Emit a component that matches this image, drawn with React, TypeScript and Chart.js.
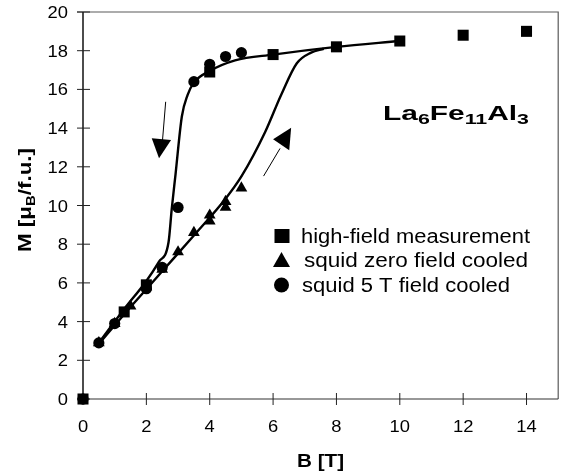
import React, { useEffect, useRef } from 'react';
import { Chart, registerables } from 'chart.js';

Chart.register(...registerables);

// Measured magnetisation M [µB/f.u.] versus applied field B [T]
const highFieldB = [0, 1.3, 2, 4, 6, 8, 10, 12, 14];
const highFieldM = [0, 4.5, 5.9, 16.9, 17.8, 18.2, 18.5, 18.8, 19.0];

const zfcB = [0.5, 1.0, 1.5, 2.0, 2.5, 3.0, 3.5, 4.0, 4.0, 4.5, 4.5, 5.0];
const zfcM = [2.9, 3.9, 4.8, 5.8, 6.7, 7.6, 8.6, 9.5, 9.2, 10.2, 9.9, 10.9];

const fcB = [0, 0.5, 1.0, 2.0, 2.5, 3.0, 3.5, 4.0, 4.5, 5.0];
const fcM = [0, 2.9, 3.9, 5.7, 6.8, 9.9, 16.4, 17.3, 17.7, 17.9];

// Guide-to-the-eye curves: decreasing-field branch and increasing-field branch
const downCurveB = [0.5, 1.3, 2.0, 2.4, 2.7, 2.8, 2.92, 3.12, 3.3, 3.5, 4.0, 4.8, 6.0, 8.0, 10.0];
const downCurveM = [2.9, 4.65, 6.1, 7.1, 8.1, 9.8, 11.6, 14.6, 15.7, 16.35, 16.95, 17.5, 17.8, 18.2, 18.5];

const upCurveB = [0.5, 1.5, 2.5, 3.5, 4.5, 5.0, 5.75, 6.25, 6.75, 7.2, 7.6];
const upCurveM = [2.85, 4.75, 6.6, 8.45, 10.35, 11.5, 13.8, 15.7, 17.35, 17.9, 18.1];

// Field-sweep direction arrows: [tailB, tailM, shaftEndB, shaftEndM, tipB, tipM, base1B, base1M, base2B, base2M]
const arrowDown = [2.61, 15.36, 2.51, 13.38, 2.40, 12.44, 2.17, 13.47, 2.78, 13.38];
const arrowUp = [5.70, 11.52, 6.22, 12.95, 6.57, 14.02, 6.00, 13.42, 6.51, 12.86];

// Axis tick labels
const bTicks = [0, 2, 4, 6, 8, 10, 12, 14];
const mTicks = [0, 2, 4, 6, 8, 10, 12, 14, 16, 18, 20];

const legendLabels = ['high-field measurement', 'squid zero field cooled', 'squid 5 T field cooled'];

const FONT = "'Liberation Sans', Arial, Helvetica, sans-serif";

const pts = (xs: number[], ys: number[]) => xs.map((x, i) => ({ x, y: ys[i] }));

type Run = { text: string; font: string; dy: number };

function drawRuns(ctx: CanvasRenderingContext2D, runs: Run[], x: number, y: number, width?: number) {
  let total = 0;
  const ws = runs.map((r) => {
    ctx.font = r.font;
    const w = ctx.measureText(r.text).width;
    total += w;
    return w;
  });
  const sx = width ? width / total : 1;
  ctx.save();
  ctx.translate(x, y);
  ctx.scale(sx, 1);
  let cx = 0;
  runs.forEach((r, i) => {
    ctx.font = r.font;
    ctx.fillText(r.text, cx, r.dy);
    cx += ws[i];
  });
  ctx.restore();
}

const framePlugin = {
  id: 'frame',
  beforeDatasetsDraw(chart: any) {
    const { ctx, chartArea: a, scales } = chart;
    const xs = scales.x;
    const ys = scales.y;
    ctx.save();
    // top and right border
    ctx.strokeStyle = '#5a5a5a';
    ctx.lineWidth = 1.2;
    ctx.beginPath();
    ctx.moveTo(a.left - 6, a.top);
    ctx.lineTo(a.right, a.top);
    ctx.lineTo(a.right, a.bottom);
    ctx.stroke();
    // axes
    ctx.strokeStyle = '#111';
    ctx.lineWidth = 1.5;
    ctx.beginPath();
    ctx.moveTo(a.left, a.top);
    ctx.lineTo(a.left, a.bottom);
    ctx.stroke();
    ctx.strokeStyle = '#333';
    ctx.lineWidth = 1.2;
    ctx.beginPath();
    ctx.moveTo(a.left, a.bottom);
    ctx.lineTo(a.right, a.bottom);
    ctx.stroke();
    // crossing tick marks
    ctx.lineWidth = 1;
    ctx.strokeStyle = '#222';
    ctx.beginPath();
    mTicks.forEach((v) => {
      const py = ys.getPixelForValue(v);
      ctx.moveTo(a.left - 6, py);
      ctx.lineTo(a.left + 7, py);
    });
    bTicks.forEach((v) => {
      const px = xs.getPixelForValue(v);
      ctx.moveTo(px, a.bottom - 6);
      ctx.lineTo(px, a.bottom + 6);
    });
    ctx.stroke();

    // tick labels
    ctx.fillStyle = '#000';
    ctx.font = `17px ${FONT}`;
    ctx.textBaseline = 'alphabetic';
    ctx.textAlign = 'right';
    mTicks.forEach((v) => {
      const py = ys.getPixelForValue(v);
      const s = String(v);
      const w = ctx.measureText(s).width;
      ctx.save();
      ctx.translate(a.left - 15, py + 6);
      ctx.scale(1.08, 1);
      ctx.fillText(s, 0, 0);
      ctx.restore();
      void w;
    });
    ctx.textAlign = 'center';
    bTicks.forEach((v) => {
      const px = xs.getPixelForValue(v);
      ctx.save();
      ctx.translate(px, a.bottom + 33);
      ctx.scale(1.08, 1);
      ctx.fillText(String(v), 0, 0);
      ctx.restore();
    });
    ctx.restore();
  },
  afterDraw(chart: any) {
    const { ctx, chartArea: a, scales } = chart;
    const xs = scales.x;
    const ys = scales.y;
    const P = (b: number, m: number) => [xs.getPixelForValue(b), ys.getPixelForValue(m)];
    ctx.save();
    ctx.fillStyle = '#000';
    ctx.strokeStyle = '#000';

    // direction arrows
    [arrowDown, arrowUp].forEach((ar) => {
      const [t0, t1] = P(ar[0], ar[1]);
      const [s0, s1] = P(ar[2], ar[3]);
      const [p0, p1] = P(ar[4], ar[5]);
      const [b0, b1] = P(ar[6], ar[7]);
      const [c0, c1] = P(ar[8], ar[9]);
      ctx.lineWidth = 1;
      ctx.beginPath();
      ctx.moveTo(t0, t1);
      ctx.lineTo(s0, s1);
      ctx.stroke();
      ctx.beginPath();
      ctx.moveTo(p0, p1);
      ctx.lineTo(b0, b1);
      ctx.lineTo(c0, c1);
      ctx.closePath();
      ctx.fill();
    });

    ctx.textAlign = 'left';
    ctx.textBaseline = 'alphabetic';

    // compound formula
    const big = `bold 21px ${FONT}`;
    const sub = `bold 15px ${FONT}`;
    drawRuns(
      ctx,
      [
        { text: 'La', font: big, dy: 0 },
        { text: '6', font: sub, dy: 4 },
        { text: 'Fe', font: big, dy: 0 },
        { text: '11', font: sub, dy: 4 },
        { text: 'Al', font: big, dy: 0 },
        { text: '3', font: sub, dy: 4 },
      ],
      383,
      120,
      146
    );

    // legend
    const lf = `20px ${FONT}`;
    const rows = [
      { y: 236, tx: 301, w: 229 },
      { y: 260, tx: 304, w: 224 },
      { y: 285, tx: 302, w: 208 },
    ];
    const mx = 282;
    ctx.fillRect(mx - 7.5, rows[0].y - 7, 15, 14);
    ctx.beginPath();
    ctx.moveTo(mx - 9, rows[1].y + 7);
    ctx.lineTo(mx + 8, rows[1].y + 7);
    ctx.lineTo(mx - 0.5, rows[1].y - 8);
    ctx.closePath();
    ctx.fill();
    ctx.beginPath();
    ctx.arc(mx - 0.5, rows[2].y, 7.5, 0, Math.PI * 2);
    ctx.fill();
    rows.forEach((r, i) => {
      drawRuns(ctx, [{ text: legendLabels[i], font: lf, dy: 0 }], r.tx, r.y + 7, r.w);
    });

    // axis titles
    const tf = `bold 18px ${FONT}`;
    const tsub = `bold 12px ${FONT}`;
    ctx.save();
    ctx.translate(31, 252);
    ctx.rotate(-Math.PI / 2);
    drawRuns(
      ctx,
      [
        { text: 'M [\u03bc', font: tf, dy: 0 },
        { text: 'B', font: tsub, dy: 4 },
        { text: '/f.u.]', font: tf, dy: 0 },
      ],
      0,
      0,
      104
    );
    ctx.restore();

    const xTitleW = 47;
    drawRuns(ctx, [{ text: 'B [T]', font: tf, dy: 0 }], (a.left + a.right) / 2 - xTitleW / 2, 467, xTitleW);

    ctx.restore();
  },
};

export default function App() {
  const ref = useRef<HTMLCanvasElement>(null);

  useEffect(() => {
    if (!ref.current) return;
    const lineStyle = {
      showLine: true,
      borderColor: '#000',
      borderWidth: 2.4,
      pointRadius: 0,
      pointHoverRadius: 0,
      cubicInterpolationMode: 'monotone' as const,
      fill: false,
    };
    const chart = new Chart(ref.current, {
      type: 'scatter',
      data: {
        datasets: [
          {
            label: legendLabels[0],
            data: pts(highFieldB, highFieldM),
            pointStyle: 'rect',
            pointRadius: 7.8,
            backgroundColor: '#000',
            borderColor: '#000',
            borderWidth: 0,
            clip: false,
          },
          {
            label: legendLabels[1],
            data: pts(zfcB, zfcM),
            pointStyle: 'triangle',
            pointRadius: 6.8,
            backgroundColor: '#000',
            borderColor: '#000',
            borderWidth: 0,
            clip: false,
          },
          {
            label: legendLabels[2],
            data: pts(fcB, fcM),
            pointStyle: 'circle',
            pointRadius: 5.6,
            backgroundColor: '#000',
            borderColor: '#000',
            borderWidth: 0,
            clip: false,
          },
          { label: 'down', data: pts(downCurveB, downCurveM), ...lineStyle },
          { label: 'up', data: pts(upCurveB, upCurveM), ...lineStyle },
        ],
      },
      options: {
        responsive: false,
        animation: false,
        events: [],
        layout: { padding: { top: 12, right: 7, left: 0, bottom: 0 } },
        plugins: { legend: { display: false }, tooltip: { enabled: false } },
        scales: {
          x: {
            type: 'linear',
            min: 0,
            max: 15,
            grid: { display: false },
            border: { display: false },
            ticks: { display: false, stepSize: 2 },
            afterFit: (s: any) => {
              s.height = 77;
            },
          },
          y: {
            type: 'linear',
            min: 0,
            max: 20,
            grid: { display: false },
            border: { display: false },
            ticks: { display: false, stepSize: 2 },
            afterFit: (s: any) => {
              s.width = 83;
            },
          },
        },
      },
      plugins: [framePlugin],
    });
    return () => chart.destroy();
  }, []);

  return (
    <div style={{ position: 'absolute', left: 0, top: 0, width: 566, height: 476, background: '#fff' }}>
      <canvas ref={ref} width={566} height={476} style={{ display: 'block' }} />
    </div>
  );
}
